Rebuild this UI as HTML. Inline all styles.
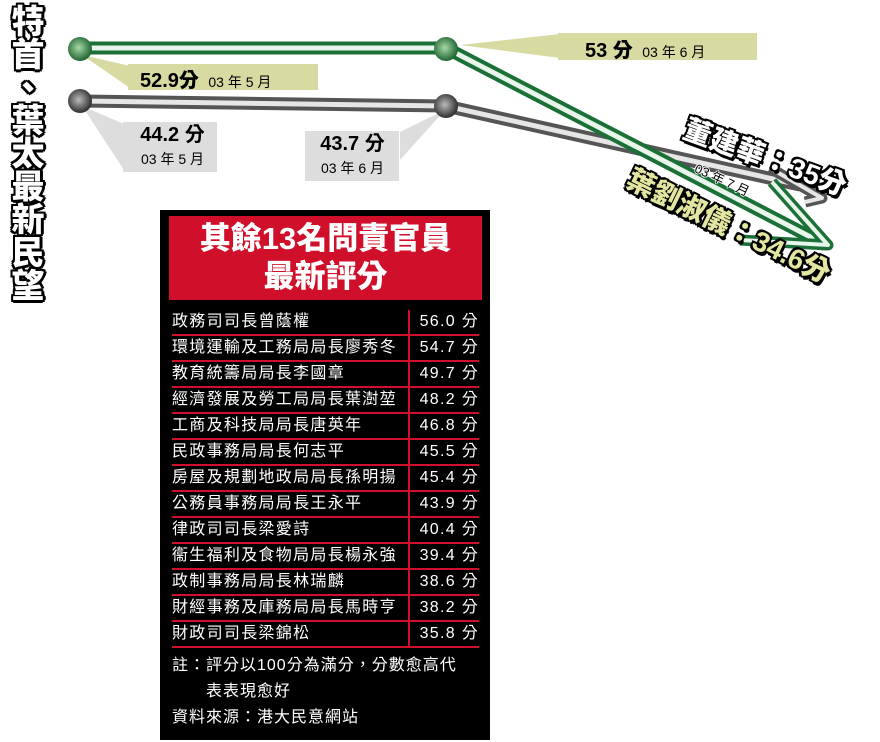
<!DOCTYPE html>
<html><head><meta charset="utf-8"><style>
body{margin:0;width:880px;height:742px;background:#fff;position:relative;overflow:hidden;font-family:"Liberation Sans","Noto Sans CJK TC",sans-serif}
.abs{position:absolute}
.title{left:5px;top:4px;writing-mode:vertical-rl;font-size:33px;font-weight:900;color:#fff;letter-spacing:0px;line-height:40px;
text-shadow:2px 0 #000,-2px 0 #000,0 2px #000,0 -2px #000,2px 2px #000,-2px -2px #000,2px -2px #000,-2px 2px #000,3px 0 #000,0 3px #000}
.outl{font-weight:900;text-shadow:2px 0 #000,-2px 0 #000,0 2px #000,0 -2px #000,2px 2px #000,-2px -2px #000,2px -2px #000,-2px 2px #000,3px 3px #000}
table{border-collapse:collapse}
td{color:#fff;font-size:16px;letter-spacing:1.3px;height:24px;line-height:24px;padding:0;border-bottom:2px solid #d0102a;white-space:nowrap}
</style></head><body>
<svg class="abs" style="left:0;top:0" width="880" height="742">
<defs>
<radialGradient id="gb" cx=".45" cy=".45" r=".6"><stop offset="0" stop-color="#a8d8a8"/><stop offset="1" stop-color="#145a28"/></radialGradient>
<radialGradient id="kb" cx=".45" cy=".45" r=".6"><stop offset="0" stop-color="#bbb"/><stop offset="1" stop-color="#222"/></radialGradient>
</defs>
<polygon points="82,55 130,66 130,88" fill="#d7dba2"/>
<rect x="128" y="64" width="190" height="26" fill="#d7dba2"/>
<polygon points="460,45 560,34 560,58" fill="#d7dba2"/>
<rect x="558" y="33" width="199" height="27" fill="#d7dba2"/>
<polygon points="82,106 124,124 124,170" fill="#ddd"/>
<rect x="123" y="122" width="94" height="50" fill="#ddd"/>
<polygon points="445,110 400,132 400,160" fill="#ddd"/>
<rect x="305" y="131" width="94" height="50" fill="#ddd"/>
<polyline points="82,101 446,106 800,185" fill="none" stroke="#555" stroke-width="13"/>
<polyline points="82,101 446,106 800,185" fill="none" stroke="#e6e6e6" stroke-width="5"/>
<polyline points="770,168 822,198 805,202" fill="none" stroke="#555" stroke-width="11" stroke-linejoin="round"/>
<polyline points="770,168 822,198 805,202" fill="none" stroke="#e6e6e6" stroke-width="4" stroke-linejoin="round"/>
<polyline points="82,48 446,48 826,245" fill="none" stroke="#1a7036" stroke-width="13"/>
<polyline points="82,48 446,48 826,245" fill="none" stroke="#e8f5ea" stroke-width="5"/>
<polyline points="772,182 828,245 740,240" fill="none" stroke="#1a7036" stroke-width="11" stroke-linejoin="round"/>
<polyline points="772,182 828,245 740,240" fill="none" stroke="#e8f5ea" stroke-width="4" stroke-linejoin="round"/>
<circle cx="80" cy="49" r="12" fill="url(#gb)"/>
<circle cx="446" cy="49" r="12" fill="url(#gb)"/>
<circle cx="80" cy="101" r="12" fill="url(#kb)"/>
<circle cx="446" cy="106" r="12" fill="url(#kb)"/>
</svg>
<div class="abs title">特首、葉太最新民望</div>
<div class="abs" style="left:140px;top:64px;font-size:20px;font-weight:900">52.9分 <span style="font-size:14px;font-weight:400">&nbsp;03 年 5 月</span></div>
<div class="abs" style="left:585px;top:34px;font-size:20px;font-weight:900">53 分 <span style="font-size:14px;font-weight:400">&nbsp;03 年 6 月</span></div>
<div class="abs" style="left:130px;top:124px;width:85px;text-align:center;line-height:22px"><b style="font-size:20px">44.2 分</b><br><span style="font-size:14px">03 年 5 月</span></div>
<div class="abs" style="left:310px;top:133px;width:85px;text-align:center;line-height:22px"><b style="font-size:20px">43.7 分</b><br><span style="font-size:14px">03 年 6 月</span></div>
<div class="abs outl" style="left:692px;top:108px;font-size:28px;color:#fff;transform:rotate(20deg);transform-origin:0 0;white-space:nowrap">董建華：35分</div>
<div class="abs" style="left:700px;top:158px;font-size:13px;color:#000;transform:rotate(25deg);transform-origin:0 0;white-space:nowrap;text-shadow:1px 0 #fff,-1px 0 #fff,0 1px #fff,0 -1px #fff">03 年 7 月</div>
<div class="abs outl" style="left:638px;top:158px;font-size:28px;color:#e3e6a0;transform:rotate(26deg);transform-origin:0 0;white-space:nowrap">葉劉淑儀：34.6分</div>
<div class="abs" style="left:160px;top:210px;width:330px;height:530px;background:#000"></div>
<div class="abs" style="left:169px;top:216px;width:313px;height:84px;background:#d0102a;color:#fff;font-size:31px;font-weight:900;text-align:center;line-height:38px;padding-top:4px;box-sizing:border-box">其餘13名問責官員<br>最新評分</div>
<table class="abs" style="left:172px;top:310px;width:307px">
<tr><td style="width:236px;border-right:2px solid #d0102a">政務司司長曾蔭權</td><td style="padding-left:10px">56.0 分</td></tr>
<tr><td style="border-right:2px solid #d0102a">環境運輸及工務局局長廖秀冬</td><td style="padding-left:10px">54.7 分</td></tr>
<tr><td style="border-right:2px solid #d0102a">教育統籌局局長李國章</td><td style="padding-left:10px">49.7 分</td></tr>
<tr><td style="border-right:2px solid #d0102a">經濟發展及勞工局局長葉澍堃</td><td style="padding-left:10px">48.2 分</td></tr>
<tr><td style="border-right:2px solid #d0102a">工商及科技局局長唐英年</td><td style="padding-left:10px">46.8 分</td></tr>
<tr><td style="border-right:2px solid #d0102a">民政事務局局長何志平</td><td style="padding-left:10px">45.5 分</td></tr>
<tr><td style="border-right:2px solid #d0102a">房屋及規劃地政局局長孫明揚</td><td style="padding-left:10px">45.4 分</td></tr>
<tr><td style="border-right:2px solid #d0102a">公務員事務局局長王永平</td><td style="padding-left:10px">43.9 分</td></tr>
<tr><td style="border-right:2px solid #d0102a">律政司司長梁愛詩</td><td style="padding-left:10px">40.4 分</td></tr>
<tr><td style="border-right:2px solid #d0102a">衞生福利及食物局局長楊永強</td><td style="padding-left:10px">39.4 分</td></tr>
<tr><td style="border-right:2px solid #d0102a">政制事務局局長林瑞麟</td><td style="padding-left:10px">38.6 分</td></tr>
<tr><td style="border-right:2px solid #d0102a">財經事務及庫務局局長馬時亨</td><td style="padding-left:10px">38.2 分</td></tr>
<tr><td style="border-right:2px solid #d0102a">財政司司長梁錦松</td><td style="padding-left:10px">35.8 分</td></tr>
</table>
<div class="abs" style="left:172px;top:653px;color:#fff;font-size:16px;letter-spacing:1px;line-height:26px;white-space:nowrap">註：評分以100分為滿分，分數愈高代<br><span style="padding-left:34px">表表現愈好</span><br>資料來源：港大民意網站</div>
</body></html>
